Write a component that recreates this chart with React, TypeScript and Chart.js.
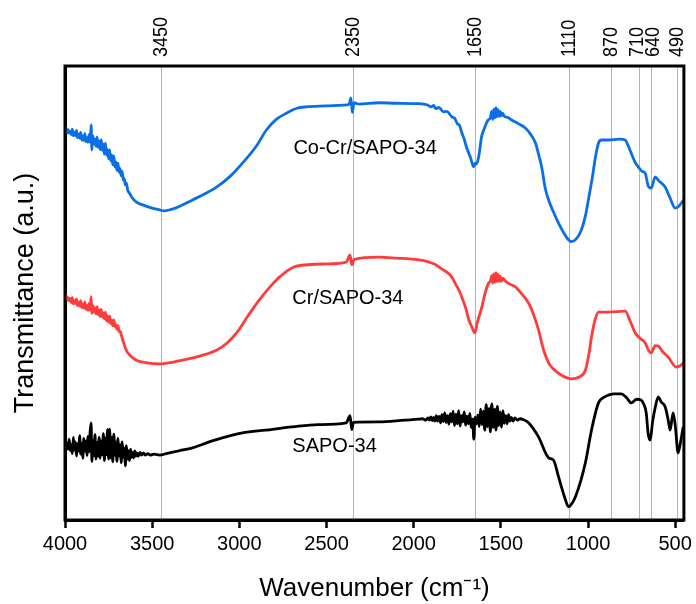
import React, { useEffect, useRef } from "react";
import { Chart, registerables } from "chart.js";

Chart.register(...registerables);

// ---------- data ----------
const xTickValues = [4000, 3500, 3000, 2500, 2000, 1500, 1000, 500];
const peakMarkers = [3450, 2350, 1650, 1110, 870, 710, 640, 490];

const seriesNames = ["Co-Cr/SAPO-34", "Cr/SAPO-34", "SAPO-34"];
const seriesColors = ["#0a6fe6", "#ff3b3b", "#000000"];
// label anchor: [wavenumber, transmittance]
const seriesLabelAt = [
  [2690, 81.9],
  [2696, 48.7],
  [2696, 16.3],
];

const coCrSapo = [
  [4000, 85.9], [3994, 86.4], [3988, 85.3], [3982, 86.0], [3976, 85.2], [3970, 85.6], [3964, 84.9],
  [3958, 86.1], [3952, 84.6], [3946, 85.4], [3940, 84.6], [3934, 85.8], [3928, 84.2], [3922, 85.0],
  [3916, 84.1], [3910, 85.4], [3904, 83.7], [3898, 84.6], [3892, 83.6], [3886, 85.1], [3880, 83.3],
  [3874, 84.2], [3868, 83.2], [3862, 84.9], [3856, 83.2], [3850, 87.0], [3846, 81.5], [3840, 84.6],
  [3834, 82.8], [3828, 83.9], [3822, 82.3], [3816, 84.4], [3810, 82.1], [3804, 83.5], [3798, 81.6],
  [3792, 83.8], [3786, 81.4], [3780, 82.8], [3774, 80.6], [3768, 83.0], [3762, 80.4], [3756, 81.6],
  [3750, 79.6], [3744, 81.5], [3738, 79.1], [3732, 80.4], [3726, 78.2], [3720, 80.2], [3714, 77.8],
  [3708, 78.9], [3702, 77.0], [3696, 78.6], [3690, 76.6], [3684, 77.4], [3678, 75.8], [3672, 76.8],
  [3666, 74.9], [3660, 75.2], [3654, 73.8], [3648, 74.2], [3640, 72.6], [3630, 72.0], [3617, 71.1],
  [3590, 70.0], [3554, 69.4], [3500, 68.7], [3457, 68.3], [3430, 68.1], [3400, 68.3], [3360, 68.8],
  [3268, 70.5], [3200, 71.8], [3131, 73.3], [3050, 75.8], [2982, 78.6], [2900, 82.5], [2845, 85.9],
  [2790, 88.2], [2730, 89.6], [2670, 90.7], [2616, 91.0], [2502, 91.2], [2400, 91.4], [2370, 91.6],
  [2360, 93.0], [2352, 89.8], [2342, 91.9], [2313, 91.6], [2199, 91.9], [2100, 91.8], [1970, 91.7],
  [1920, 91.4], [1900, 91.0], [1885, 91.3], [1873, 90.6], [1855, 90.9], [1830, 89.9], [1810, 90.0],
  [1781, 88.8], [1765, 88.5], [1750, 87.3], [1737, 86.9], [1724, 85.3], [1712, 84.1], [1700, 82.5],
  [1684, 80.8], [1672, 79.6], [1665, 78.6], [1655, 77.8], [1648, 78.6], [1640, 78.4], [1627, 80.0],
  [1610, 84.5], [1598, 85.9], [1575, 88.0], [1560, 88.6], [1552, 90.0], [1546, 88.2], [1540, 90.5],
  [1534, 88.6], [1528, 90.8], [1522, 88.8], [1516, 90.4], [1510, 88.9], [1504, 90.0], [1498, 89.0],
  [1490, 89.6], [1480, 88.9], [1460, 88.7], [1438, 88.1], [1400, 87.3], [1358, 86.3], [1330, 85.0],
  [1301, 83.0], [1280, 80.0], [1266, 77.8], [1245, 73.0], [1226, 70.5], [1200, 68.0], [1169, 65.4],
  [1140, 63.3], [1112, 61.7], [1095, 61.3], [1070, 61.8], [1038, 63.9], [1015, 67.0], [998, 70.5],
  [975, 75.5], [957, 80.0], [940, 83.0], [923, 83.7], [883, 83.7], [820, 83.9], [786, 83.7],
  [770, 82.5], [752, 80.8], [730, 78.8], [712, 77.8], [690, 76.8], [672, 76.4], [655, 73.6],
  [637, 73.1], [615, 75.6], [597, 74.8], [557, 73.3], [530, 71.0], [500, 68.7], [483, 69.0],
  [465, 69.8], [450, 70.5],
];

const crSapo = [
  [4000, 49.1], [3994, 49.5], [3988, 48.4], [3982, 49.0], [3976, 48.3], [3970, 48.8], [3964, 47.9],
  [3958, 49.0], [3952, 47.6], [3946, 48.3], [3940, 47.7], [3934, 48.7], [3928, 47.2], [3922, 48.0],
  [3916, 47.1], [3910, 48.3], [3904, 46.8], [3898, 47.6], [3892, 46.7], [3886, 48.0], [3880, 46.4],
  [3874, 47.2], [3868, 46.2], [3862, 47.7], [3856, 46.2], [3850, 49.2], [3846, 45.5], [3840, 47.2],
  [3834, 45.8], [3828, 46.7], [3822, 45.4], [3816, 47.0], [3810, 45.2], [3804, 46.2], [3798, 44.8],
  [3792, 46.4], [3786, 44.7], [3780, 45.6], [3774, 44.3], [3768, 45.8], [3762, 43.9], [3756, 44.9],
  [3750, 43.6], [3744, 44.9], [3738, 43.3], [3732, 44.0], [3726, 42.8], [3720, 44.1], [3714, 42.6],
  [3708, 43.0], [3702, 42.0], [3696, 42.8], [3690, 41.5], [3684, 41.6], [3676, 40.6], [3668, 39.6],
  [3650, 37.5], [3628, 36.3], [3590, 35.2], [3531, 34.6], [3457, 34.4], [3380, 34.8], [3268, 35.7],
  [3131, 37.4], [3070, 39.0], [3016, 41.2], [2950, 45.0], [2885, 48.5], [2820, 51.5], [2770, 53.5],
  [2673, 55.9], [2502, 56.4], [2387, 56.8], [2365, 58.4], [2355, 56.2], [2340, 57.4], [2199, 57.9],
  [2100, 57.7], [1970, 57.3], [1920, 56.9], [1873, 56.2], [1840, 55.3], [1810, 54.6], [1781, 53.5],
  [1760, 52.0], [1740, 50.6], [1724, 49.1], [1700, 46.5], [1684, 44.1], [1665, 42.4], [1649, 41.2],
  [1635, 43.5], [1609, 46.9], [1590, 50.0], [1570, 52.2], [1560, 52.6], [1552, 53.8], [1546, 52.2],
  [1540, 54.2], [1534, 52.4], [1528, 54.5], [1522, 52.5], [1516, 54.1], [1510, 52.6], [1504, 53.7],
  [1498, 52.6], [1488, 53.2], [1470, 52.5], [1445, 51.9], [1415, 51.3], [1380, 49.8], [1341, 47.8],
  [1310, 45.0], [1284, 41.9], [1255, 37.5], [1226, 34.6], [1200, 33.3], [1152, 31.9], [1095, 31.1],
  [1050, 31.5], [1015, 33.0], [995, 36.5], [980, 40.3], [960, 44.0], [940, 45.8], [883, 45.8],
  [786, 46.0], [760, 44.0], [729, 41.2], [700, 40.0], [672, 39.0], [650, 37.2], [637, 36.8],
  [615, 38.4], [597, 38.3], [570, 37.0], [540, 35.9], [494, 33.7], [470, 34.0], [454, 34.6],
];

const sapo = [
  [4000, 16.5], [3994, 15.9], [3988, 16.9], [3982, 15.6], [3976, 17.8], [3970, 15.3], [3964, 16.6],
  [3958, 14.6], [3952, 18.2], [3946, 15.4], [3940, 17.2], [3934, 14.1], [3928, 16.8], [3922, 15.2],
  [3916, 18.6], [3910, 14.5], [3904, 16.9], [3898, 13.6], [3892, 18.0], [3886, 15.1], [3880, 17.4],
  [3874, 14.2], [3868, 18.4], [3862, 15.0], [3856, 19.4], [3850, 21.4], [3846, 12.9], [3840, 17.4],
  [3834, 14.2], [3828, 18.8], [3822, 13.4], [3816, 17.1], [3810, 14.0], [3804, 18.2], [3798, 13.6],
  [3792, 17.4], [3786, 14.4], [3780, 19.0], [3774, 13.1], [3768, 18.1], [3762, 14.4], [3756, 19.9],
  [3750, 13.4], [3744, 20.0], [3738, 13.7], [3732, 18.2], [3726, 12.8], [3720, 18.9], [3714, 14.3],
  [3708, 17.2], [3702, 12.9], [3696, 18.0], [3690, 14.1], [3684, 16.6], [3678, 12.6], [3672, 17.2],
  [3666, 13.8], [3660, 15.8], [3654, 11.9], [3648, 16.4], [3642, 13.4], [3636, 15.3], [3630, 13.1],
  [3624, 15.6], [3618, 13.8], [3612, 14.9], [3606, 13.7], [3600, 15.2], [3594, 14.1], [3588, 14.8],
  [3580, 14.0], [3570, 14.9], [3560, 14.3], [3550, 14.8], [3540, 14.3], [3525, 14.6], [3510, 14.3],
  [3490, 14.5], [3457, 14.3], [3420, 14.6], [3350, 15.2], [3268, 15.9], [3150, 17.5], [2982, 19.2],
  [2850, 19.8], [2696, 20.5], [2550, 21.0], [2387, 21.4], [2365, 23.0], [2355, 19.9], [2345, 21.5],
  [2199, 21.6], [2050, 22.0], [1970, 22.2], [1950, 22.3], [1930, 22.0], [1918, 22.5], [1910, 22.0],
  [1902, 22.7], [1894, 21.9], [1886, 22.6], [1878, 21.8], [1870, 23.0], [1862, 21.8], [1854, 22.8],
  [1846, 21.4], [1838, 23.2], [1830, 21.7], [1822, 23.6], [1814, 21.5], [1806, 23.0], [1798, 21.1],
  [1790, 23.4], [1782, 21.6], [1774, 24.0], [1766, 20.8], [1758, 23.3], [1750, 21.2], [1742, 24.1],
  [1734, 20.7], [1726, 23.0], [1718, 21.6], [1710, 23.8], [1702, 20.9], [1694, 22.9], [1686, 21.2],
  [1678, 23.5], [1670, 20.4], [1662, 22.2], [1655, 17.8], [1648, 22.6], [1640, 21.2], [1632, 23.1],
  [1624, 20.6], [1616, 24.4], [1608, 21.0], [1600, 24.0], [1592, 19.8], [1584, 25.4], [1576, 20.6],
  [1568, 24.6], [1560, 19.4], [1552, 25.6], [1544, 20.4], [1536, 24.4], [1528, 19.8], [1520, 25.0],
  [1512, 20.8], [1504, 23.8], [1496, 20.4], [1488, 24.1], [1480, 21.3], [1472, 23.0], [1464, 21.2],
  [1456, 23.2], [1448, 21.8], [1440, 22.6], [1430, 21.8], [1420, 22.5], [1405, 22.0], [1390, 22.3],
  [1370, 22.1], [1341, 21.4], [1284, 18.3], [1226, 13.7], [1198, 13.2], [1169, 9.5], [1129, 4.4],
  [1112, 2.9], [1100, 3.2], [1072, 5.1], [1015, 12.6], [980, 19.8], [940, 25.8], [910, 27.0],
  [883, 27.5], [850, 27.8], [809, 27.8], [780, 27.0], [752, 25.8], [720, 26.6], [695, 26.4],
  [680, 25.5], [666, 23.6], [655, 19.0], [643, 17.6], [630, 21.5], [614, 24.9], [597, 27.1],
  [580, 26.0], [557, 24.9], [540, 22.0], [529, 19.8], [512, 23.6], [500, 21.0], [483, 14.8],
  [470, 17.0], [454, 20.5],
];

const allSeries = [coCrSapo, crSapo, sapo];

const FONT = "'Liberation Sans', Arial, sans-serif";

const overlayPlugin = {
  id: "ftirOverlay",
  beforeDatasetsDraw(chart: any) {
    const { ctx, chartArea, scales } = chart;
    ctx.save();
    ctx.strokeStyle = "#b4b4b4";
    ctx.lineWidth = 1;
    peakMarkers.forEach((w) => {
      const x = Math.round(scales.x.getPixelForValue(w)) + 0.5;
      ctx.beginPath();
      ctx.moveTo(x, chartArea.top);
      ctx.lineTo(x, chartArea.bottom);
      ctx.stroke();
    });
    ctx.restore();
  },
  afterDraw(chart: any) {
    const { ctx, chartArea, scales } = chart;
    ctx.save();
    // frame
    ctx.strokeStyle = "#000";
    ctx.lineWidth = 3;
    ctx.strokeRect(chartArea.left, chartArea.top, chartArea.right - chartArea.left, chartArea.bottom - chartArea.top);
    // peak labels: rotated, spread apart slightly where they would collide
    const xs = peakMarkers.map((w) => scales.x.getPixelForValue(w));
    const minGap = 16;
    for (let i = 1; i < xs.length; i++) {
      const gap = xs[i] - xs[i - 1];
      if (gap < minGap) {
        const d = (minGap - gap) / 2;
        xs[i - 1] -= d;
        xs[i] += d;
      }
    }
    ctx.fillStyle = "#000";
    ctx.font = `20px ${FONT}`;
    ctx.textAlign = "left";
    ctx.textBaseline = "middle";
    peakMarkers.forEach((w, i) => {
      ctx.save();
      ctx.translate(xs[i] + 1, chartArea.top - 9);
      ctx.rotate(-Math.PI / 2);
      ctx.scale(0.9, 1);
      ctx.fillText(String(w), 0, 0);
      ctx.restore();
    });
    // series names
    ctx.font = `20px ${FONT}`;
    ctx.textBaseline = "middle";
    seriesNames.forEach((name, i) => {
      const [w, t] = seriesLabelAt[i];
      ctx.fillText(name, scales.x.getPixelForValue(w), scales.y.getPixelForValue(t));
    });
    ctx.restore();
  },
};

export default function App() {
  const canvasRef = useRef<HTMLCanvasElement | null>(null);

  useEffect(() => {
    if (!canvasRef.current) return;
    const chart = new Chart(canvasRef.current, {
      type: "line",
      data: {
        datasets: allSeries.map((s, i) => ({
          label: seriesNames[i],
          data: s.map(([x, y]) => ({ x, y })),
          borderColor: seriesColors[i],
          borderWidth: 2.8,
          pointRadius: 0,
          cubicInterpolationMode: "monotone" as const,
          fill: false,
        })),
      },
      options: {
        animation: false,
        responsive: true,
        maintainAspectRatio: false,
        layout: { padding: { top: 66, right: 10, left: 0, bottom: 0 } },
        plugins: { legend: { display: false }, tooltip: { enabled: false } },
        scales: {
          x: {
            type: "linear",
            reverse: true,
            min: 450,
            max: 4000,
            afterBuildTicks: (scale: any) => {
              scale.ticks = xTickValues.map((v) => ({ value: v }));
            },
            afterFit: (scale: any) => {
              scale.height = 84;
            },
            ticks: {
              color: "#000",
              font: { family: FONT, size: 20 },
              padding: 4,
              maxRotation: 0,
              autoSkip: false,
              callback: (v: any) => String(v),
            },
            grid: {
              display: true,
              drawOnChartArea: false,
              drawTicks: true,
              tickLength: 8,
              tickWidth: 2.5,
              tickColor: "#000",
            },
            border: { display: true, color: "#000", width: 3 },
            title: {
              display: true,
              text: "Wavenumber (cm\u207B\u00B9)",
              color: "#000",
              font: { family: FONT, size: 26 },
              padding: { top: 0, bottom: 0 },
            },
          },
          y: {
            min: 0,
            max: 100,
            afterFit: (scale: any) => {
              scale.width = 65;
            },
            ticks: { display: false },
            grid: { display: false },
            border: { display: true, color: "#000", width: 3 },
            title: {
              display: true,
              text: "Transmittance (a.u.)",
              color: "#000",
              font: { family: FONT, size: 27 },
              padding: { top: 9, bottom: 0 },
            },
          },
        },
      },
      plugins: [overlayPlugin],
    });
    return () => chart.destroy();
  }, []);

  return (
    <div style={{ position: "absolute", left: 0, top: 0, width: 696, height: 604, background: "#fff" }}>
      <canvas ref={canvasRef} />
    </div>
  );
}
